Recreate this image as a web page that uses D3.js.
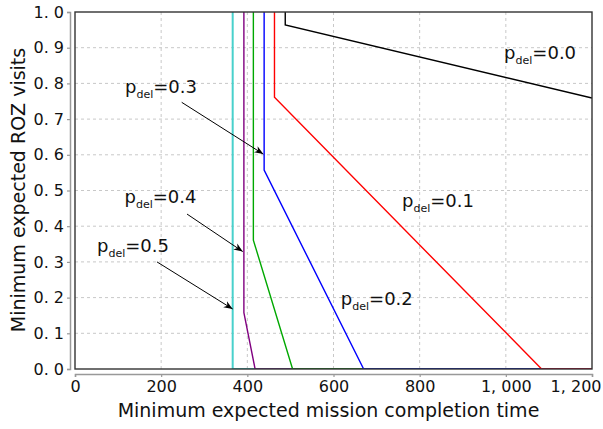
<!DOCTYPE html>
<html><head><meta charset="utf-8">
<script src="https://cdn.jsdelivr.net/npm/d3@7"></script>
<style>body{margin:0;background:#fff}svg{display:block;font-family:"DejaVu Sans",sans-serif}</style>
</head><body><svg id="c" width="603" height="429"></svg>
<script>
// data
const xTicks = [0, 200, 400, 600, 800, 1000, 1200];
const xTickLabels = ["0", "200", "400", "600", "800", "1, 000", "1, 200"];
const yTicks = [0, 0.1, 0.2, 0.3, 0.4, 0.5, 0.6, 0.7, 0.8, 0.9, 1.0];
const yTickLabels = ["0. 0", "0. 1", "0. 2", "0. 3", "0. 4", "0. 5", "0. 6", "0. 7", "0. 8", "0. 9", "1. 0"];
const seriesNames = ["cyan", "purple", "green", "blue", "red", "black"];
const seriesColors = ["#48D1CC", "#800080", "#00A800", "#0000FF", "#FF0000", "#000000"];
const seriesX = [
  [366, 366, 1200],
  [392, 392, 418, 1200],
  [414, 414, 505, 1200],
  [439, 439, 670, 1200],
  [463, 463, 1083, 1200],
  [488, 488, 1200]
];
const seriesY = [
  [1.0, 0, 0],
  [1.0, 0.158, 0, 0],
  [1.0, 0.361, 0, 0],
  [1.0, 0.557, 0, 0],
  [1.0, 0.761, 0, 0],
  [1.0, 0.964, 0.759]
];
const labelValues = ["0.0", "0.1", "0.2", "0.3", "0.4", "0.5"];
const labelX = [996, 759, 617, 116, 115, 51];
const labelY = [0.867, 0.454, 0.179, 0.772, 0.464, 0.328];
const arrowFromX = [247.7, 260, 190.3];
const arrowFromY = [0.747, 0.434, 0.300];
const arrowToX = [437, 389.3, 366];
const arrowToY = [0.602, 0.329, 0.168];

const svg = d3.select("#c");
const L = 75, R = 592, T = 12, B = 369;
const W = 603;
const x = d3.scaleLinear().domain([0, 1200]).range([L, R]);
const y = d3.scaleLinear().domain([0, 1]).range([B, T]);

// grid
const g = svg.append("g");
g.selectAll("line.gx").data(xTicks.slice(1, -1)).join("line")
  .attr("x1", d => x(d)).attr("x2", d => x(d)).attr("y1", T).attr("y2", B)
  .attr("stroke", "#c8c8c8").attr("stroke-width", 1).attr("stroke-dasharray", "3,3");
g.selectAll("line.gy").data(yTicks.slice(1, -1)).join("line")
  .attr("y1", d => y(d)).attr("y2", d => y(d)).attr("x1", L).attr("x2", R)
  .attr("stroke", "#c8c8c8").attr("stroke-width", 1).attr("stroke-dasharray", "3,3");

// axes (offset spines)
const xAxis = d3.axisBottom(x).tickValues(xTicks).tickFormat((d, i) => xTickLabels[i]).tickSize(3).tickPadding(4);
const yAxis = d3.axisLeft(y).tickValues(yTicks).tickFormat((d, i) => yTickLabels[i]).tickSize(3).tickPadding(3);
const ax = svg.append("g").attr("transform", `translate(0,${B + 5})`).call(xAxis);
const ay = svg.append("g").attr("transform", `translate(${L - 5},0)`).call(yAxis);
[ax, ay].forEach(a => {
  a.select(".domain").attr("stroke", "#999").attr("stroke-width", 1.5);
  a.selectAll(".tick line").attr("stroke", "#999").attr("stroke-width", 1.2);
  a.selectAll(".tick text").attr("font-size", 16).attr("fill", "#111").attr("font-family", "DejaVu Sans");
});
// keep the last x label inside the page, right-aligned at the edge
ax.selectAll(".tick").filter(d => d === xTicks[xTicks.length - 1]).select("text")
  .attr("text-anchor", "end").attr("x", W - 2 - x(xTicks[xTicks.length - 1]));

// clip
svg.append("clipPath").attr("id", "clp").append("rect").attr("x", L).attr("y", T).attr("width", R - L).attr("height", B - T);

// lines
const line = d3.line().x(d => x(d[0])).y(d => y(d[1]));
const lg = svg.append("g").attr("clip-path", "url(#clp)");
seriesNames.forEach((n, i) => {
  const pts = seriesX[i].map((v, j) => [v, seriesY[i][j]]);
  lg.append("path").attr("d", line(pts)).attr("fill", "none")
    .attr("stroke", seriesColors[i]).attr("stroke-width", n === "cyan" ? 2 : 1.4);
});

// frame
svg.append("rect").attr("x", L).attr("y", T).attr("width", R - L).attr("height", B - T)
  .attr("fill", "none").attr("stroke", "#333").attr("stroke-width", 1.4);

// labels
labelValues.forEach((v, i) => {
  const t = svg.append("text").attr("x", x(labelX[i])).attr("y", y(labelY[i]))
    .attr("font-size", 18).attr("fill", "#111");
  t.append("tspan").text("p");
  t.append("tspan").attr("dy", 5).attr("font-size", 11).text("del");
  t.append("tspan").attr("dy", -5).text("=" + v);
});

// arrows
const defs = svg.append("defs");
defs.append("marker").attr("id", "ah").attr("viewBox", "0 0 10 10").attr("refX", 10).attr("refY", 5)
  .attr("markerWidth", 9).attr("markerHeight", 9).attr("markerUnits", "userSpaceOnUse").attr("orient", "auto")
  .append("path").attr("d", "M0,1 L10,5 L0,9 L3,5 Z").attr("fill", "#000");
arrowFromX.forEach((v, i) => {
  svg.append("line").attr("x1", x(v)).attr("y1", y(arrowFromY[i]))
    .attr("x2", x(arrowToX[i])).attr("y2", y(arrowToY[i]))
    .attr("stroke", "#000").attr("stroke-width", 1).attr("marker-end", "url(#ah)");
});

// axis titles
svg.append("text").attr("x", 328.5).attr("y", 417).attr("text-anchor", "middle")
  .attr("font-size", 19).attr("fill", "#111").text("Minimum expected mission completion time");
svg.append("text").attr("transform", `translate(25,190) rotate(-90)`).attr("text-anchor", "middle")
  .attr("font-size", 19).attr("fill", "#111").text("Minimum expected ROZ visits");
</script></body></html>
